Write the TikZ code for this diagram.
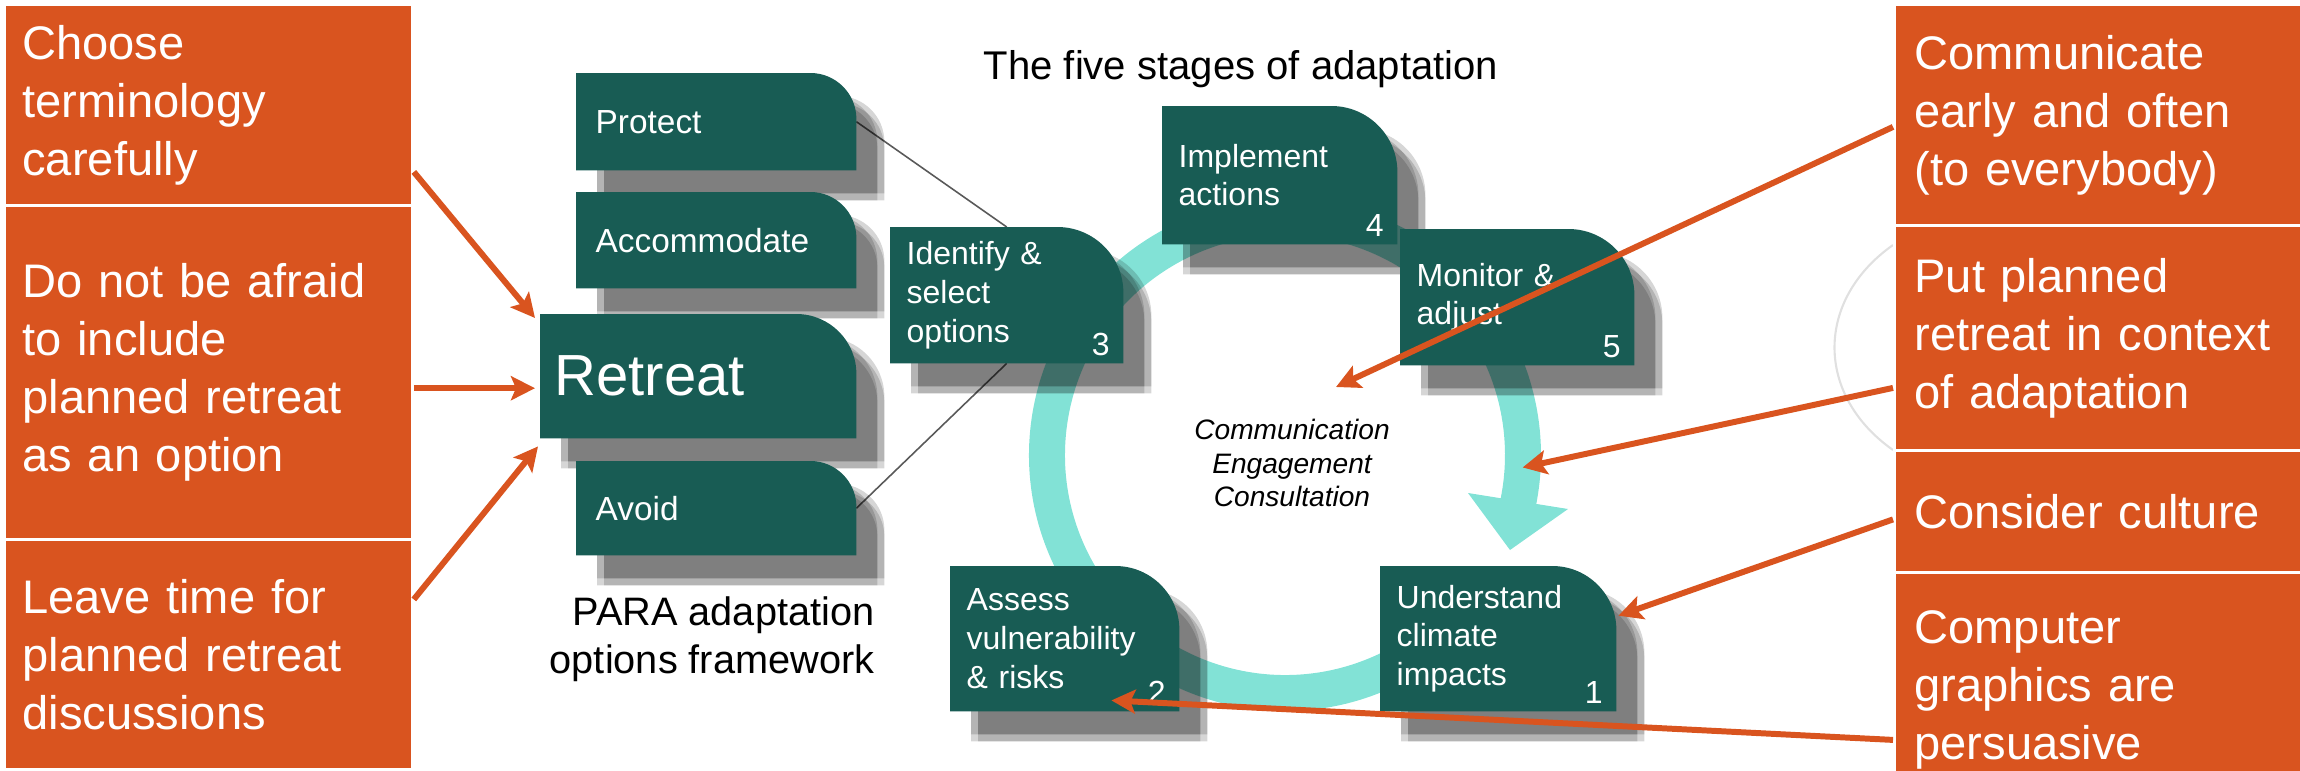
\documentclass[tikz,border=0pt]{standalone}
\usepackage{fontspec}
\setmainfont{Liberation Sans}
\usetikzlibrary{positioning,arrows.meta,shadows}

\definecolor{burnt}{RGB}{217,84,31}
\definecolor{tabgreen}{RGB}{24,92,84}
\definecolor{ringcyan}{RGB}{130,226,214}

\pgfdeclarelayer{ring}
\pgfdeclarelayer{tabs}
\pgfsetlayers{ring,tabs,main}

\tikzset{
  card/.style={anchor=north west, fill=burnt, draw=white, line width=0.8pt, text=white,
    inner xsep=0.18cm, inner ysep=0pt, text width=3.72cm, align=left,
    font=\fontsize{13.4}{16.5}\selectfont},
  opt/.style={anchor=north west, text=white, inner xsep=0.19cm, inner ysep=0pt,
    text width=2.41cm, align=left, font=\fontsize{9.5}{11.4}\selectfont},
  stage/.style={anchor=north west, text=white, inner xsep=0.16cm, inner ysep=0pt,
    text width=2.02cm, align=left, font=\fontsize{9.1}{11}\selectfont},
  num/.style={text=white, inner sep=0pt, font=\fontsize{9.1}{11}\selectfont},
  tip/.style={draw=burnt, line width=1.7pt,
    -{Stealth[length=0.24cm, width=0.24cm, inset=0.05cm]}},
  link/.style={draw=black!65, line width=0.45pt},
  haze/.style={draw=black!12, line width=0.6pt},
  soft/.style={fill=black, opacity=0.16},
  tab/.style={fill=tabgreen,
    drop shadow={shadow xshift=0.21cm, shadow yshift=-0.23cm, soft},
    drop shadow={shadow xshift=0.28cm, shadow yshift=-0.23cm, soft},
    drop shadow={shadow xshift=0.21cm, shadow yshift=-0.30cm, soft},
    drop shadow={shadow xshift=0.28cm, shadow yshift=-0.30cm, soft}},
}

\begin{document}
\begin{tikzpicture}
\useasboundingbox (0,0) rectangle (23,-7.7);
\clip (0,0) rectangle (23,-7.7);

% advice boxes, left
\node[card, minimum height=2.01cm] (choose) at (0.03,-0.03) {Choose\\terminology\\carefully};
\node[card, minimum height=3.34cm] (afraid) at (0.03,-2.04) {Do not be afraid\\to include\\planned retreat\\as an option};
\node[card, minimum height=2.30cm] (leave) at (0.03,-5.38) {Leave time for\\planned retreat\\discussions};

% advice boxes, right
\draw[haze] (18.93,-2.45) .. controls (18.15,-3.0) and (18.15,-3.95) .. (18.93,-4.5);
\node[card, inner xsep=0.2cm, text width=3.7cm, minimum height=2.21cm] (comm) at (18.93,-0.03) {Communicate\\early and often\\(to everybody)};
\node[card, inner xsep=0.2cm, text width=3.7cm, minimum height=2.25cm] (context) at (18.93,-2.24) {Put planned\\retreat in context\\of adaptation};
\node[card, inner xsep=0.2cm, text width=3.7cm, minimum height=1.22cm] (culture) at (18.93,-4.49) {Consider culture};
\node[card, inner xsep=0.2cm, text width=3.7cm, minimum height=2.35cm] (graphics) at (18.93,-5.71) {Computer\\graphics are\\persuasive};

% PARA options
\node[opt, minimum height=0.96cm] (protect) at (5.76,-0.73) {Protect};
\node[opt, minimum height=0.95cm] (accom) at (5.76,-1.92) {Accommodate};
\node[opt, inner xsep=0.14cm, text width=2.87cm, minimum height=1.23cm,
  font=\fontsize{16.5}{19}\selectfont] (retreat) at (5.40,-3.14) {Retreat};
\node[opt, minimum height=0.93cm] (avoid) at (5.76,-4.61) {Avoid};
\node[align=right, anchor=east, inner sep=0pt, font=\fontsize{11.3}{13.7}\selectfont] (para) at (8.75,-6.39) {PARA adaptation\\options framework};

% five stages
\node[font=\fontsize{11.4}{13.7}\selectfont] (title) at (12.41,-0.69) {The five stages of adaptation};
\node[stage, text width=2.00cm, minimum height=1.35cm] (ident) at (8.90,-2.27) {Identify \&\\select\\options};
\node[stage, minimum height=1.37cm] (impl) at (11.62,-1.06) {Implement\\actions};
\node[stage, text width=2.01cm, minimum height=1.35cm] (moni) at (14.00,-2.29) {Monitor \&\\adjust};
\node[stage, text width=2.03cm, minimum height=1.44cm] (und) at (13.80,-5.66) {Understand\\climate\\impacts};
\node[stage, text width=1.96cm, minimum height=1.44cm] (assess) at (9.50,-5.66) {Assess\\vulnerability\\\& risks};
\foreach \n/\k in {und/1, assess/2, ident/3, impl/4, moni/5}
  \node[num, above left=0.07cm and 0.13cm of \n.south east] (n\k) {\k};
\node[align=center, inner sep=0pt, font=\fontsize{8}{9.6}\selectfont\itshape] (cec) at (12.92,-4.63) {Communication\\Engagement\\Consultation};

\coordinate (ringc) at (12.85,-4.55);
\coordinate (hub) at (13.36,-3.87);
\coordinate (ringpt) at ([shift={(-3:2.38)}]ringc);
\coordinate (rmid) at ([xshift=-0.05cm,yshift=-0.12cm]retreat.west);

\begin{pgfonlayer}{ring}
  \draw[ringcyan, line width=0.36cm] ([shift={(-60:2.38)}]ringc)
    arc[start angle=-60, end angle=-373, radius=2.38];
  \fill[ringcyan] (15.68,-5.09) -- (15.10,-5.50) -- (14.68,-4.93) -- cycle;
  \draw[link] (protect.east) -- (ident.north);
  \draw[link] (avoid.east) -- (ident.south);
\end{pgfonlayer}

\begin{pgfonlayer}{tabs}
  \foreach \n/\r in {protect/0.46cm, accom/0.46cm, retreat/0.6cm, avoid/0.46cm,
                     ident/0.66cm, impl/0.66cm, moni/0.66cm, und/0.64cm, assess/0.64cm}
    \path[tab] (\n.south west) -- (\n.north west) -- ([xshift=-\r]\n.north east)
      arc[start angle=90, end angle=0, radius=\r] -- (\n.south east) -- cycle;
\end{pgfonlayer}

\draw[tip] ([yshift=-0.67cm]choose.east) -- ([xshift=-0.05cm,yshift=-0.04cm]retreat.north west);
\draw[tip] (afraid.east |- rmid) -- (rmid);
\draw[tip] ([yshift=0.55cm]leave.east) -- ([xshift=-0.02cm,yshift=-0.08cm]retreat.south west);

\draw[tip] ([yshift=-0.12cm]comm.west) -- (hub);
\draw[tip] ([yshift=-0.5cm]context.west) -- (ringpt);
\draw[tip] ([yshift=-0.08cm]culture.west) -- ([xshift=0.02cm,yshift=0.23cm]und.east);
\draw[tip] ([yshift=-0.5cm]graphics.west) -- ([xshift=-0.68cm,yshift=0.11cm]assess.south east);

\end{tikzpicture}
\end{document}
